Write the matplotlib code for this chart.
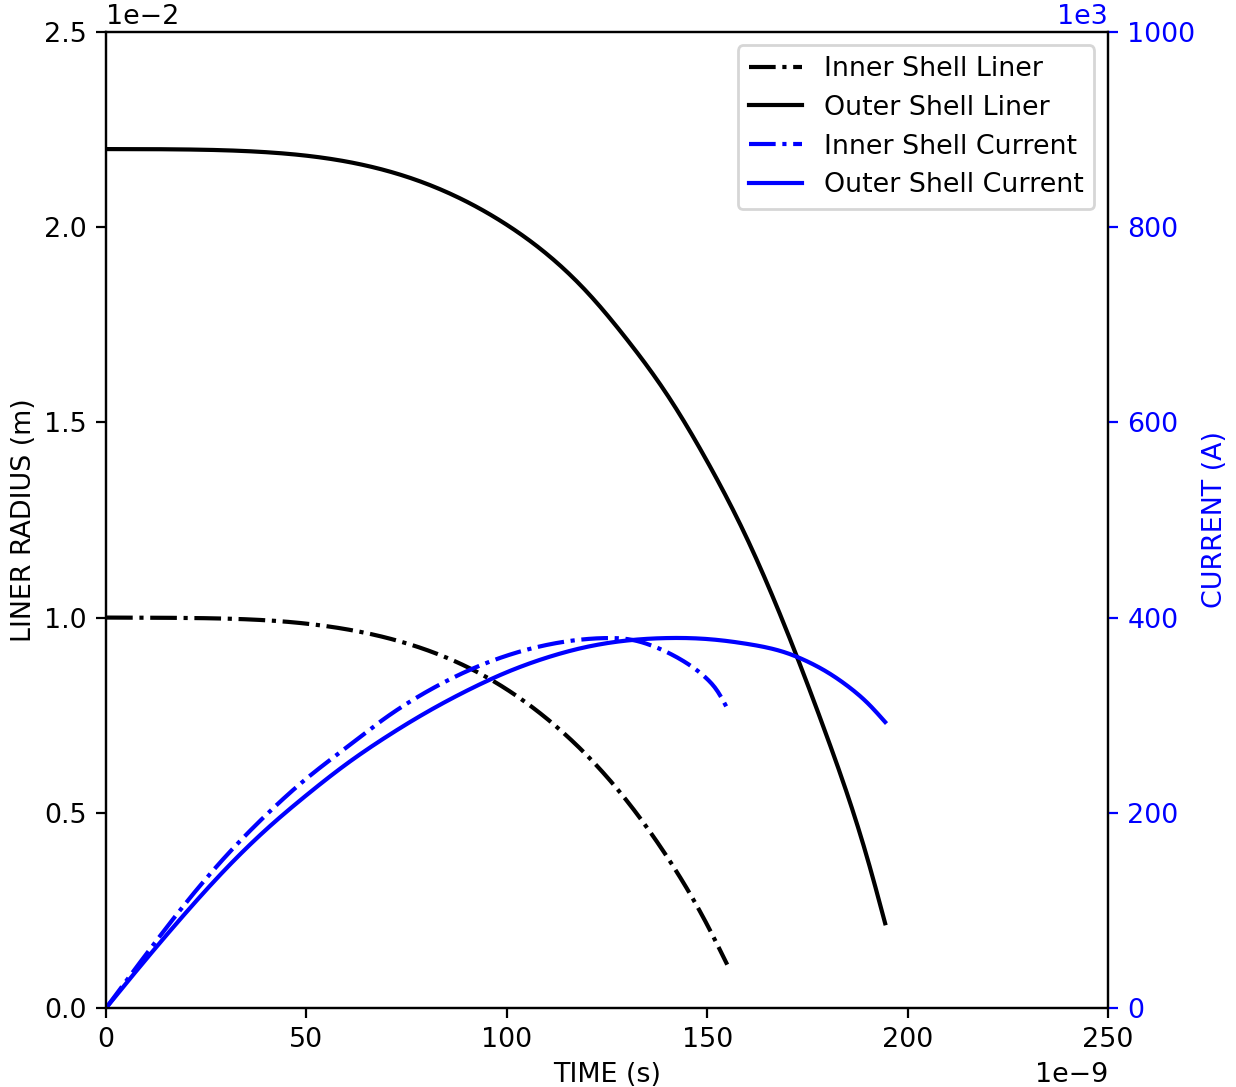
import numpy as np
import matplotlib
matplotlib.use("Agg")
import matplotlib.pyplot as plt

plt.rcParams['font.size'] = 9.7

# time in ns, radius in cm (1e-2 m), current in kA (1e3 A)
t_inner_liner = [0, 20, 40, 60, 80, 90, 100, 110, 120, 130, 140, 150, 155]
r_inner_liner = [1.000, 0.999, 0.993, 0.970, 0.917, 0.874, 0.816, 0.741, 0.647,
                 0.530, 0.387, 0.213, 0.111]

t_outer_liner = [0, 20, 40, 60, 80, 100, 110, 120, 130, 140, 150, 160, 170, 180, 190, 194.4]
r_outer_liner = [2.200, 2.199, 2.192, 2.168, 2.111, 2.006, 1.931, 1.834, 1.712,
                 1.571, 1.400, 1.201, 0.962, 0.692, 0.382, 0.217]

t_inner_cur = [0, 10, 20, 30, 40, 50, 60, 70, 80, 90, 100, 110, 120, 126, 130, 135,
               140, 145, 150, 152.5, 155]
i_inner_cur = [0, 55, 108, 156, 198, 235, 267, 298, 324, 345, 361, 372, 378, 379,
               378, 373, 364.5, 353, 337, 325, 307]

t_outer_cur = [0, 10, 20, 30, 40, 50, 60, 70, 80, 90, 100, 110, 120, 130, 140, 150,
               160, 170, 175, 180, 185, 190, 194.4]
i_outer_cur = [0, 50, 98, 143, 183, 218, 250, 278, 303, 325, 344, 359, 370, 376.5,
               379, 378, 373, 363.5, 355, 344, 330, 312.5, 293]


# natural cubic spline through the read-off points, only for a smooth stroke
def smooth(t, y, n=400):
    x = np.asarray(t, float)
    y = np.asarray(y, float)
    h = np.diff(x)
    N = len(x)
    A = np.zeros((N, N))
    b = np.zeros(N)
    A[0, 0] = A[-1, -1] = 1
    for k in range(1, N - 1):
        A[k, k - 1] = h[k - 1]
        A[k, k] = 2 * (h[k - 1] + h[k])
        A[k, k + 1] = h[k]
        b[k] = 6 * ((y[k + 1] - y[k]) / h[k] - (y[k] - y[k - 1]) / h[k - 1])
    M = np.linalg.solve(A, b)
    tt = np.linspace(x[0], x[-1], n)
    i = np.clip(np.searchsorted(x, tt) - 1, 0, N - 2)
    a = x[i + 1] - tt
    c = tt - x[i]
    hi = h[i]
    yy = (M[i] * a**3 / (6 * hi) + M[i + 1] * c**3 / (6 * hi)
          + (y[i] / hi - M[i] * hi / 6) * a + (y[i + 1] / hi - M[i + 1] * hi / 6) * c)
    return tt, yy


fig, ax1 = plt.subplots(figsize=(6.18, 5.435), dpi=200)
fig.subplots_adjust(left=0.0858, right=0.8964, bottom=0.0727, top=0.9706)
ax2 = ax1.twinx()

tt, yy = smooth(t_inner_liner, r_inner_liner)
l1, = ax1.plot(tt * 1e-9, yy * 1e-2, 'k-.', label='Inner Shell Liner')
tt, yy = smooth(t_outer_liner, r_outer_liner)
l2, = ax1.plot(tt * 1e-9, yy * 1e-2, 'k-', label='Outer Shell Liner')
tt, yy = smooth(t_inner_cur, i_inner_cur)
l3, = ax2.plot(tt * 1e-9, yy * 1e3, 'b-.', label='Inner Shell Current')
tt, yy = smooth(t_outer_cur, i_outer_cur)
l4, = ax2.plot(tt * 1e-9, yy * 1e3, 'b-', label='Outer Shell Current')

ax1.set_xlim(0, 250e-9)
ax1.set_ylim(0, 2.5e-2)
ax2.set_ylim(0, 1e6)
ax1.ticklabel_format(axis='x', style='sci', scilimits=(-9, -9))
ax1.ticklabel_format(axis='y', style='sci', scilimits=(-2, -2))
ax2.ticklabel_format(axis='y', style='sci', scilimits=(3, 3))

ax1.set_xlabel('TIME (s)', labelpad=3)
ax1.set_ylabel('LINER RADIUS (m)', labelpad=2.5)
ax2.set_ylabel('CURRENT (A)', color='b', labelpad=2.5)
ax2.tick_params(axis='y', colors='b')
ax2.yaxis.get_offset_text().set_color('b')

ax2.legend(handles=[l1, l2, l3, l4], loc='upper right', labelspacing=0.47)

plt.savefig('out.png')
